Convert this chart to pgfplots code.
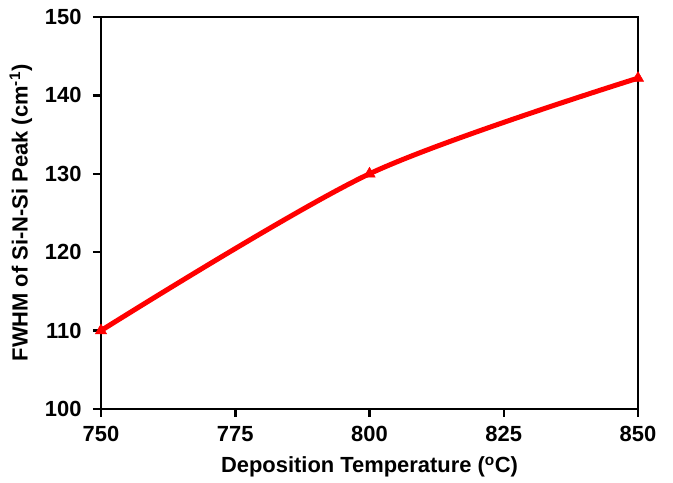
\documentclass[border=0pt]{standalone}
\usepackage{fontspec}
\setmainfont{Liberation Sans}
\usepackage{pgfplots}
\pgfplotsset{compat=1.18}
\begin{document}
\begin{tikzpicture}
\begin{axis}[
 scale only axis, width=537bp, height=392bp,
 xmin=750, xmax=850, ymin=100, ymax=150,
 xtick={750,775,800,825,850}, ytick={100,110,120,130,140,150},
 axis line style={line width=2.5bp},
 tick style={line width=2.5bp, black},
 tick align=outside, major tick length=8bp,
 xtick pos=bottom, ytick pos=left,
 ticklabel style={font=\fontsize{22}{26}\selectfont\bfseries},
 xticklabel style={yshift=-6bp},
 yticklabel style={xshift=-8bp},
 /pgf/number format/assume math mode=true,
 /pgf/number format/1000 sep={},
 label style={font=\fontsize{22}{26}\selectfont\bfseries},
 xlabel={Deposition Temperature (\textsuperscript{o}C)},
 ylabel={FWHM of Si-N-Si Peak (cm\textsuperscript{-1})},
 xlabel style={yshift=-8bp},
 ylabel style={yshift=6bp},
 clip=false,
]
\addplot[red, line width=5bp, smooth, mark=triangle*, mark size=6.5bp, mark options={line width=0.5bp}] coordinates {(750,110) (800,130) (850,142.2)};
\end{axis}
\path (current axis.south west) ++(-101bp,-74bp) coordinate (a);
\path (current axis.north east) ++(35bp,17bp) coordinate (b);
\path (a) rectangle (b);
\end{tikzpicture}
\end{document}
